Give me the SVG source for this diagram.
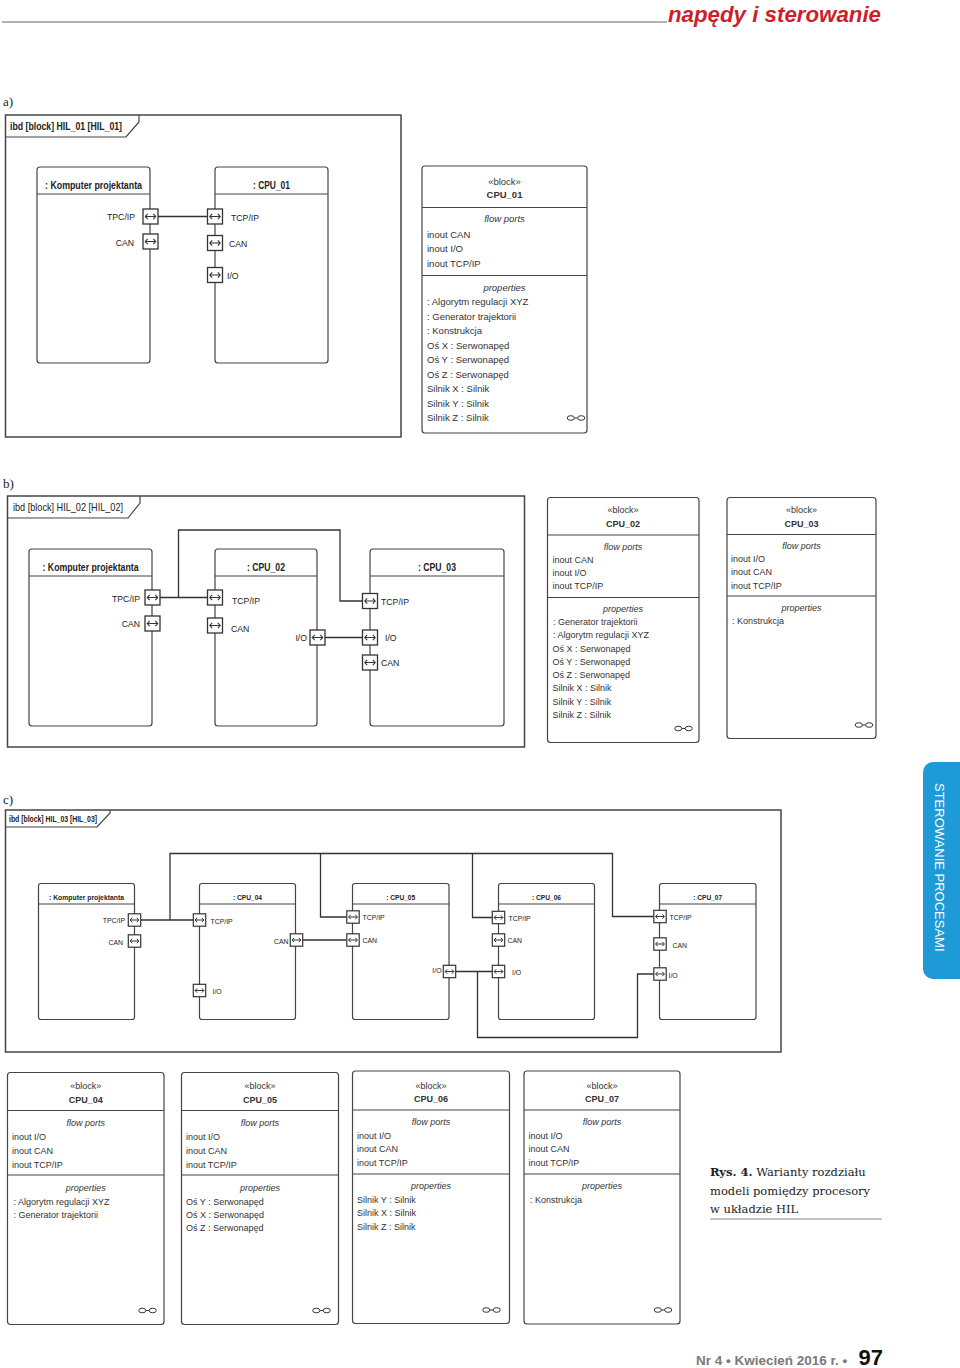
<svg xmlns="http://www.w3.org/2000/svg" width="960" height="1368" viewBox="0 0 960 1368">
<style>
.frame{fill:none;stroke:#444;stroke-width:1.5}
.blk{fill:#fff;stroke:#444;stroke-width:1.2}
.sep{stroke:#444;stroke-width:1.2;fill:none}
.wire{fill:none;stroke:#333;stroke-width:1.3}
.t{font-family:'Liberation Sans',Arial,sans-serif;fill:#222}
.d{font-family:'Liberation Sans',Arial,sans-serif;fill:#333}
.l10{font-size:8.7px}
.l8{font-size:6.9px}
.b{font-weight:bold}
.da{font-size:9.5px}
.db{font-size:9px}
.m{text-anchor:middle}
.e{text-anchor:end}
.it{font-style:italic}
.lab{font-family:'Liberation Serif','Times New Roman',serif;font-size:13px;fill:#222}
</style>
<defs>
<g id="p"><rect x="-7.5" y="-7.5" width="15" height="15" fill="#fff" stroke="#333" stroke-width="1.3"/><path d="M-5 0H5M-2.8-2.6L-5.2 0L-2.8 2.6M2.8-2.6L5.2 0L2.8 2.6" fill="none" stroke="#333" stroke-width="1.1"/></g>
<g id="ps"><rect x="-6.2" y="-6.2" width="12.4" height="12.4" fill="#fff" stroke="#333" stroke-width="1.2"/><path d="M-4.2 0H4.2M-2.3-2.2L-4.4 0L-2.3 2.2M2.3-2.2L4.4 0L2.3 2.2" fill="none" stroke="#333" stroke-width="1"/></g>
<g id="gl" fill="none" stroke="#333" stroke-width="1"><ellipse cx="-5.2" cy="0" rx="3.6" ry="2.3"/><ellipse cx="5.2" cy="0" rx="3.6" ry="2.3"/><path d="M-1.6 0H1.6"/></g>
</defs>

<!-- header -->
<g id="header">
<path d="M2 22H667" stroke="#999" stroke-width="1.5"/>
<text x="668" y="22" font-family="'Liberation Sans',Arial,sans-serif" font-size="22" font-weight="bold" font-style="italic" fill="#cc1f2b" textLength="213" lengthAdjust="spacingAndGlyphs">napędy i sterowanie</text>
</g>

<!-- section a -->
<text class="lab" x="3" y="106">a)</text>
<g id="frameA">
<rect class="frame" x="5.5" y="115" width="395.5" height="322"/>
<path class="sep" d="M5.5 137H126L139 122V115"/>
<text class="t b" x="10" y="129.5" font-size="10.5" textLength="112" lengthAdjust="spacingAndGlyphs">ibd [block] HIL_01 [HIL_01]</text>
</g>
<g id="connectorsA"><path class="wire" d="M158 216.5H207.5"/></g>
<g id="a_komputer">
<rect class="blk" x="37" y="167" width="113" height="196" rx="3"/>
<path class="sep" d="M37 194H150"/>
<text class="t b m" x="93.5" y="188.5" font-size="10.5" textLength="97" lengthAdjust="spacingAndGlyphs">: Komputer projektanta</text>
<use href="#p" x="150.5" y="216.5"/><use href="#p" x="150.5" y="241.5"/>
<text class="t l10 e" x="135" y="220">TPC/IP</text>
<text class="t l10 e" x="134" y="245.5">CAN</text>
</g>
<g id="a_cpu01">
<rect class="blk" x="215" y="167" width="113" height="196" rx="3"/>
<path class="sep" d="M215 194H328"/>
<text class="t b m" x="271.5" y="188.5" font-size="10.5" textLength="37" lengthAdjust="spacingAndGlyphs">: CPU_01</text>
<use href="#p" x="215" y="216.5"/><use href="#p" x="215" y="243"/><use href="#p" x="215" y="275"/>
<text class="t l10" x="231" y="220.5">TCP/IP</text>
<text class="t l10" x="229" y="247">CAN</text>
<text class="t l10" x="227" y="279">I/O</text>
</g>
<g id="def_cpu01">
<rect class="blk" x="422" y="166" width="165" height="267" rx="3"/>
<text class="d da m" x="504.5" y="185">«block»</text>
<text class="d da m b" x="504.5" y="198">CPU_01</text>
<path class="sep" d="M422 207.5H587M422 275.5H587"/>
<text class="d da m it" x="504.5" y="222">flow ports</text>
<text class="d da" x="427" y="237.5">inout CAN</text>
<text class="d da" x="427" y="252">inout I/O</text>
<text class="d da" x="427" y="266.5">inout TCP/IP</text>
<text class="d da m it" x="504.5" y="290.5">properties</text>
<text class="d da" x="427" y="305">: Algorytm regulacji XYZ</text>
<text class="d da" x="427" y="319.5">: Generator trajektorii</text>
<text class="d da" x="427" y="334">: Konstrukcja</text>
<text class="d da" x="427" y="348.5">Oś X : Serwonapęd</text>
<text class="d da" x="427" y="363">Oś Y : Serwonapęd</text>
<text class="d da" x="427" y="377.5">Oś Z : Serwonapęd</text>
<text class="d da" x="427" y="392">Silnik X : Silnik</text>
<text class="d da" x="427" y="406.5">Silnik Y : Silnik</text>
<text class="d da" x="427" y="421">Silnik Z : Silnik</text>
<use href="#gl" x="576" y="418"/>
</g>

<!-- section b -->
<text class="lab" x="3" y="488">b)</text>
<g id="frameB">
<rect class="frame" x="7.5" y="496" width="517" height="251"/>
<path class="sep" d="M7.5 518H128L140 503V496"/>
<text class="t" x="13" y="511" font-size="11" textLength="110" lengthAdjust="spacingAndGlyphs">ibd [block] HIL_02 [HIL_02]</text>
</g>
<g id="connectorsB">
<path class="wire" d="M160 597.5H207"/>
<path class="wire" d="M178.5 597.5V530H340V601H362"/>
<path class="wire" d="M325 637.5H362"/>
</g>
<g id="b_komputer">
<rect class="blk" x="29" y="549" width="123" height="177" rx="3"/>
<path class="sep" d="M29 576H152"/>
<text class="t b m" x="90.5" y="570.5" font-size="10.5" textLength="96" lengthAdjust="spacingAndGlyphs">: Komputer projektanta</text>
<use href="#p" x="152.5" y="597.5"/><use href="#p" x="152.5" y="623.5"/>
<text class="t l10 e" x="140" y="601.5">TPC/IP</text>
<text class="t l10 e" x="140" y="627">CAN</text>
</g>
<g id="b_cpu02">
<rect class="blk" x="215" y="549" width="102" height="177" rx="3"/>
<path class="sep" d="M215 576H317"/>
<text class="t b m" x="266" y="570.5" font-size="10.5" textLength="38" lengthAdjust="spacingAndGlyphs">: CPU_02</text>
<use href="#p" x="215" y="597.5"/><use href="#p" x="215" y="625.5"/><use href="#p" x="317.5" y="637.5"/>
<text class="t l10" x="232" y="604">TCP/IP</text>
<text class="t l10" x="231" y="632">CAN</text>
<text class="t l10 e" x="307" y="641">I/O</text>
</g>
<g id="b_cpu03">
<rect class="blk" x="370" y="549" width="134" height="177" rx="3"/>
<path class="sep" d="M370 576H504"/>
<text class="t b m" x="437" y="570.5" font-size="10.5" textLength="38" lengthAdjust="spacingAndGlyphs">: CPU_03</text>
<use href="#p" x="370" y="601"/><use href="#p" x="370" y="637.5"/><use href="#p" x="370" y="662.5"/>
<text class="t l10" x="381" y="604.5">TCP/IP</text>
<text class="t l10" x="385" y="641">I/O</text>
<text class="t l10" x="381" y="666">CAN</text>
</g>
<g id="def_cpu02">
<rect class="blk" x="547.5" y="497.5" width="151.5" height="245" rx="3"/>
<text class="d db m" x="623" y="513">«block»</text>
<text class="d db m b" x="623" y="526.5">CPU_02</text>
<path class="sep" d="M547.5 535H699M547.5 597.5H699"/>
<text class="d db m it" x="623" y="549.5">flow ports</text>
<text class="d db" x="552.5" y="563">inout CAN</text>
<text class="d db" x="552.5" y="576">inout I/O</text>
<text class="d db" x="552.5" y="589">inout TCP/IP</text>
<text class="d db m it" x="623" y="611.5">properties</text>
<text class="d db" x="553" y="625">: Generator trajektorii</text>
<text class="d db" x="553" y="638">: Algorytm regulacji XYZ</text>
<text class="d db" x="552.5" y="651.5">Oś X : Serwonapęd</text>
<text class="d db" x="552.5" y="664.5">Oś Y : Serwonapęd</text>
<text class="d db" x="552.5" y="678">Oś Z : Serwonapęd</text>
<text class="d db" x="552.5" y="691">Silnik X : Silnik</text>
<text class="d db" x="552.5" y="704.5">Silnik Y : Silnik</text>
<text class="d db" x="552.5" y="718">Silnik Z : Silnik</text>
<use href="#gl" x="683.5" y="728.5"/>
</g>
<g id="def_cpu03">
<rect class="blk" x="727" y="497.5" width="149" height="241" rx="3"/>
<text class="d db m" x="801.5" y="513">«block»</text>
<text class="d db m b" x="801.5" y="526.5">CPU_03</text>
<path class="sep" d="M727 534.5H876M727 596H876"/>
<text class="d db m it" x="801.5" y="549">flow ports</text>
<text class="d db" x="731" y="561.5">inout I/O</text>
<text class="d db" x="731" y="575">inout CAN</text>
<text class="d db" x="731" y="588.5">inout TCP/IP</text>
<text class="d db m it" x="801.5" y="610.5">properties</text>
<text class="d db" x="732" y="623.5">: Konstrukcja</text>
<use href="#gl" x="864" y="725"/>
</g>

<!-- section c -->
<text class="lab" x="3" y="804">c)</text>
<g id="frameC">
<rect class="frame" x="5.5" y="810" width="775.5" height="242"/>
<path class="sep" d="M5.5 827H97L110 813V810"/>
<text class="t b" x="9" y="822" font-size="8.3" textLength="88" lengthAdjust="spacingAndGlyphs">ibd [block] HIL_03 [HIL_03]</text>
</g>
<g id="connectorsC">
<path class="wire" d="M141 920H193.5"/>
<path class="wire" d="M170 920V853.5H612.5V916.5H654"/>
<path class="wire" d="M320.5 853.5V917H346.5"/>
<path class="wire" d="M472.5 853.5V917.5H492"/>
<path class="wire" d="M302.5 940H346.5"/>
<path class="wire" d="M456 971.5H492"/>
<path class="wire" d="M477.5 971.5V1037.5H637.5V974H654"/>
</g>
<g id="c_komputer">
<rect class="blk" x="38.5" y="883.5" width="96" height="136" rx="2.5"/>
<path class="sep" d="M38.5 904H134.5"/>
<text class="t b m" x="86.5" y="900" font-size="8" textLength="75" lengthAdjust="spacingAndGlyphs">: Komputer projektanta</text>
<use href="#ps" x="134.5" y="920"/><use href="#ps" x="134.5" y="941"/>
<text class="t l8 e" x="125" y="923">TPC/IP</text>
<text class="t l8 e" x="123" y="945">CAN</text>
</g>
<g id="c_cpu04">
<rect class="blk" x="199.5" y="883.5" width="96" height="136" rx="2.5"/>
<path class="sep" d="M199.5 904H295.5"/>
<text class="t b m" x="247.5" y="900" font-size="8" textLength="29" lengthAdjust="spacingAndGlyphs">: CPU_04</text>
<use href="#ps" x="199.5" y="920"/><use href="#ps" x="199.5" y="990.5"/><use href="#ps" x="296.5" y="940"/>
<text class="t l8" x="210.5" y="923.5">TCP/IP</text>
<text class="t l8" x="212.5" y="994">I/O</text>
<text class="t l8 e" x="288.5" y="943.5">CAN</text>
</g>
<g id="c_cpu05">
<rect class="blk" x="352.5" y="883.5" width="96.5" height="136" rx="2.5"/>
<path class="sep" d="M352.5 904H449"/>
<text class="t b m" x="400.7" y="900" font-size="8" textLength="29" lengthAdjust="spacingAndGlyphs">: CPU_05</text>
<use href="#ps" x="353" y="917"/><use href="#ps" x="353" y="940"/><use href="#ps" x="449.5" y="971.5"/>
<text class="t l8" x="362.5" y="920">TCP/IP</text>
<text class="t l8" x="362.5" y="943">CAN</text>
<text class="t l8 e" x="441.5" y="973">I/O</text>
</g>
<g id="c_cpu06">
<rect class="blk" x="498.5" y="883.5" width="96" height="136" rx="2.5"/>
<path class="sep" d="M498.5 904H594.5"/>
<text class="t b m" x="546.5" y="900" font-size="8" textLength="29" lengthAdjust="spacingAndGlyphs">: CPU_06</text>
<use href="#ps" x="498.5" y="917.5"/><use href="#ps" x="498.5" y="940"/><use href="#ps" x="498.5" y="971.5"/>
<text class="t l8" x="508.5" y="921">TCP/IP</text>
<text class="t l8" x="507.5" y="943">CAN</text>
<text class="t l8" x="512" y="975">I/O</text>
</g>
<g id="c_cpu07">
<rect class="blk" x="659.5" y="883.5" width="96.5" height="136" rx="2.5"/>
<path class="sep" d="M659.5 904H756"/>
<text class="t b m" x="707.7" y="900" font-size="8" textLength="29" lengthAdjust="spacingAndGlyphs">: CPU_07</text>
<use href="#ps" x="660" y="916.5"/><use href="#ps" x="660" y="944"/><use href="#ps" x="660" y="974"/>
<text class="t l8" x="669.5" y="920">TCP/IP</text>
<text class="t l8" x="672.5" y="947.5">CAN</text>
<text class="t l8" x="668.5" y="977.5">I/O</text>
</g>

<g id="def_cpu04">
<rect class="blk" x="7.5" y="1072.5" width="156.5" height="252" rx="3"/>
<text class="d db m" x="85.7" y="1089">«block»</text>
<text class="d db m b" x="85.7" y="1102.5">CPU_04</text>
<path class="sep" d="M7.5 1110.5H164M7.5 1175H164"/>
<text class="d db m it" x="85.7" y="1125.5">flow ports</text>
<text class="d db" x="12" y="1139.5">inout I/O</text>
<text class="d db" x="12" y="1153.5">inout CAN</text>
<text class="d db" x="12" y="1167.5">inout TCP/IP</text>
<text class="d db m it" x="85.7" y="1191">properties</text>
<text class="d db" x="13.5" y="1204.5">: Algorytm regulacji XYZ</text>
<text class="d db" x="13.5" y="1217.5">: Generator trajektorii</text>
<use href="#gl" x="147.5" y="1310.5"/>
</g>
<g id="def_cpu05">
<rect class="blk" x="181.5" y="1072.5" width="157" height="252" rx="3"/>
<text class="d db m" x="260" y="1089">«block»</text>
<text class="d db m b" x="260" y="1102.5">CPU_05</text>
<path class="sep" d="M181.5 1110.5H338.5M181.5 1175H338.5"/>
<text class="d db m it" x="260" y="1125.5">flow ports</text>
<text class="d db" x="186" y="1139.5">inout I/O</text>
<text class="d db" x="186" y="1153.5">inout CAN</text>
<text class="d db" x="186" y="1167.5">inout TCP/IP</text>
<text class="d db m it" x="260" y="1191">properties</text>
<text class="d db" x="186" y="1204.5">Oś Y : Serwonapęd</text>
<text class="d db" x="186" y="1217.5">Oś X : Serwonapęd</text>
<text class="d db" x="186" y="1231">Oś Z : Serwonapęd</text>
<use href="#gl" x="321.5" y="1310.5"/>
</g>
<g id="def_cpu06">
<rect class="blk" x="352.5" y="1071" width="157" height="252.5" rx="3"/>
<text class="d db m" x="431" y="1088.5">«block»</text>
<text class="d db m b" x="431" y="1101.5">CPU_06</text>
<path class="sep" d="M352.5 1110H509.5M352.5 1174H509.5"/>
<text class="d db m it" x="431" y="1125">flow ports</text>
<text class="d db" x="357" y="1138.5">inout I/O</text>
<text class="d db" x="357" y="1152">inout CAN</text>
<text class="d db" x="357" y="1166">inout TCP/IP</text>
<text class="d db m it" x="431" y="1189">properties</text>
<text class="d db" x="357" y="1202.5">Silnik Y : Silnik</text>
<text class="d db" x="357" y="1215.5">Silnik X : Silnik</text>
<text class="d db" x="357" y="1229.5">Silnik Z : Silnik</text>
<use href="#gl" x="491.5" y="1310"/>
</g>
<g id="def_cpu07">
<rect class="blk" x="524" y="1071" width="156" height="253" rx="3"/>
<text class="d db m" x="602" y="1088.5">«block»</text>
<text class="d db m b" x="602" y="1101.5">CPU_07</text>
<path class="sep" d="M524 1110H680M524 1174H680"/>
<text class="d db m it" x="602" y="1125">flow ports</text>
<text class="d db" x="528.5" y="1138.5">inout I/O</text>
<text class="d db" x="528.5" y="1152">inout CAN</text>
<text class="d db" x="528.5" y="1166">inout TCP/IP</text>
<text class="d db m it" x="602" y="1189">properties</text>
<text class="d db" x="530" y="1202.5">: Konstrukcja</text>
<use href="#gl" x="663" y="1310"/>
</g>

<!-- caption -->
<g id="caption" font-family="'DejaVu Serif','Liberation Serif',serif" font-size="11.5" fill="#222">
<text x="710" y="1175.5"><tspan font-weight="bold">Rys. 4.</tspan> Warianty rozdziału</text>
<text x="710" y="1194.5">modeli pomiędzy procesory</text>
<text x="710" y="1213">w układzie HIL</text>
<path d="M710 1219H882" stroke="#888" stroke-width="1"/>
</g>

<!-- side tab -->
<g id="sidetab">
<rect x="923" y="762" width="50" height="217" rx="10" fill="#1e9ad6"/>
<text transform="translate(935.3,783) rotate(90)" font-family="'Liberation Sans',Arial,sans-serif" font-size="13" fill="#fff">STEROWANIE PROCESAMI</text>
</g>

<!-- footer -->
<g id="footer" font-family="'Liberation Sans',Arial,sans-serif">
<text x="696" y="1365" font-size="13.5" font-weight="bold" fill="#7a7a7a">Nr 4 • Kwiecień 2016 r. •</text>
<text x="883" y="1365" font-size="22" font-weight="bold" fill="#111" text-anchor="end">97</text>
</g>
</svg>
